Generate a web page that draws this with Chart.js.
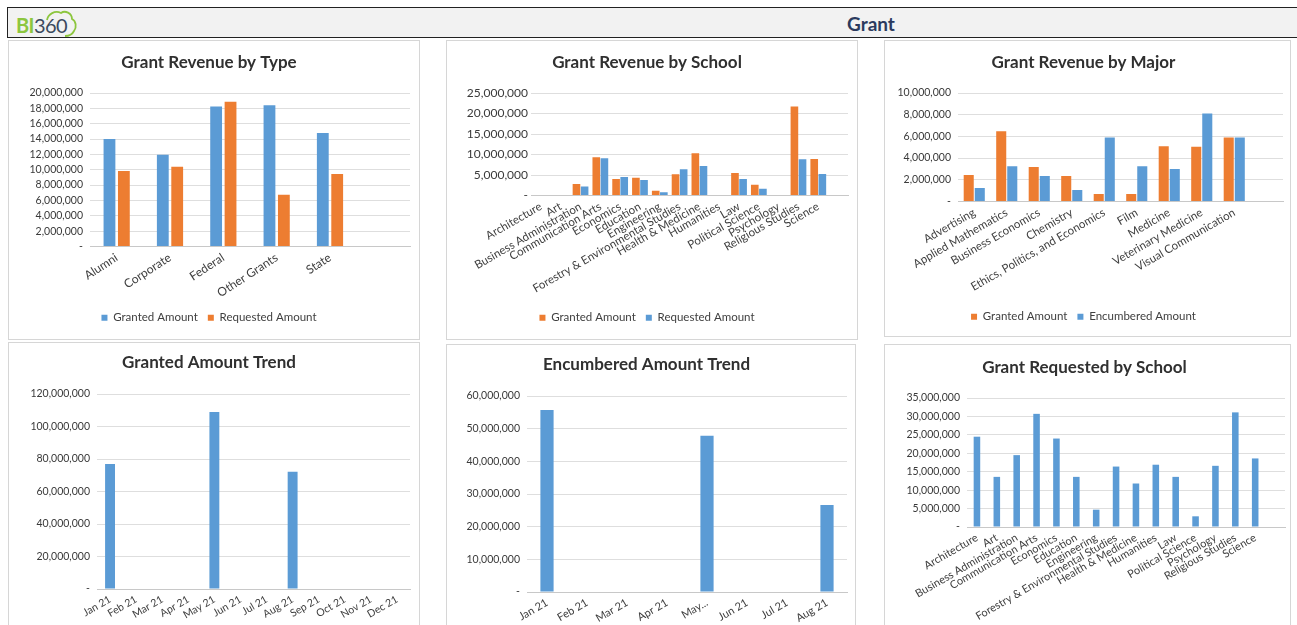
<!DOCTYPE html>
<html>
<head>
<meta charset="utf-8">
<title>Grant</title>
<script src="https://cdn.jsdelivr.net/npm/chart.js@4.4.1/dist/chart.umd.min.js"></script>
<style>
  body { margin: 0; width: 1297px; height: 625px; overflow: hidden; background: #fff; font-family: Lato, sans-serif; }
  .header { position: absolute; left: 7px; top: 7px; width: 1300px; height: 31px; border: 1px solid #222; background: #f2f2f2; box-sizing: border-box; }
  .logo { position: absolute; left: 8px; top: 6px; font-size: 20px; line-height: 22px; letter-spacing: -0.6px; }
  .logo .bi { color: #8cc63e; font-weight: bold; }
  .logo .num { color: #3b4a5e; }
  .logo svg { position: absolute; left: 22px; top: -6px; }
  .page-title { position: absolute; left: 0; width: 1726px; top: 4px; text-align: center; font-size: 19px; font-weight: bold; color: #2b3a5e; }
  .panel { position: absolute; border: 1px solid #d6d6d6; box-sizing: border-box; background: #fff; }
  canvas { position: absolute; }
</style>
</head>
<body>
<div class="header">
  <div class="logo"><span class="bi">BI</span><span class="num">360</span>
    <svg width="40" height="30" viewBox="0 0 40 30"><path d="M9 12 C10 6 17 2 23 5 C27 2 34 5 34 11 C38 13 39 19 36 23 C34 27 30 28 27 28" fill="none" stroke="#8cc63e" stroke-width="1.8"/></svg>
  </div>
  <div class="page-title">Grant</div>
</div>

<div class="panel" style="left:8px;top:40px;width:412px;height:300px"></div>
<div class="panel" style="left:446px;top:40px;width:412px;height:300px"></div>
<div class="panel" style="left:884px;top:40px;width:407px;height:297px"></div>
<div class="panel" style="left:8px;top:342px;width:412px;height:300px"></div>
<div class="panel" style="left:446px;top:344px;width:410px;height:300px"></div>
<div class="panel" style="left:884px;top:344px;width:407px;height:300px"></div>

<canvas id="byType" width="412" height="300" style="left:8px;top:40px"></canvas>
<canvas id="bySchool" width="412" height="300" style="left:446px;top:40px"></canvas>
<canvas id="byMajor" width="407" height="297" style="left:884px;top:40px"></canvas>
<canvas id="grantedTrend" width="412" height="283" style="left:8px;top:342px"></canvas>
<canvas id="encumberedTrend" width="410" height="281" style="left:446px;top:344px"></canvas>
<canvas id="requestedSchool" width="407" height="281" style="left:884px;top:344px"></canvas>

<script>
// values
const grantTypes = ['Alumni', 'Corporate', 'Federal', 'Other Grants', 'State'];
const typeGranted = [14000000, 11950000, 18250000, 18400000, 14800000];
const typeRequested = [9850000, 10400000, 18850000, 6750000, 9450000];

const schools = ['Architecture', 'Art', 'Business Administration', 'Communication Arts', 'Economics',
  'Education', 'Engineering', 'Forestry & Environmental Studies', 'Health & Medicine', 'Humanities',
  'Law', 'Political Science', 'Psychology', 'Religious Studies', 'Science'];
const schoolGranted = [0, 0, 2830000, 9300000, 4050000, 4300000, 1130000, 5200000, 10300000, 0, 5500000, 2600000, 0, 21700000, 8900000];
const schoolRequested = [0, 0, 2180000, 9060000, 4530000, 3800000, 810000, 6400000, 7200000, 0, 4050000, 1620000, 0, 8820000, 5260000];

const majors = ['Advertising', 'Applied Mathematics', 'Business Economics', 'Chemistry',
  'Ethics, Politics, and Economics', 'Film', 'Medicine', 'Veterinary Medicine', 'Visual Communication'];
const majorGranted = [2450000, 6480000, 3180000, 2350000, 700000, 700000, 5100000, 5050000, 5900000];
const majorEncumbered = [1250000, 3240000, 2350000, 1070000, 5900000, 3240000, 3000000, 8100000, 5900000];

const months = ['Jan 21', 'Feb 21', 'Mar 21', 'Apr 21', 'May 21', 'Jun 21', 'Jul 21', 'Aug 21', 'Sep 21', 'Oct 21', 'Nov 21', 'Dec 21'];
const grantedByMonth = [77000000, 0, 0, 0, 108900000, 0, 0, 72100000, 0, 0, 0, 0];

const encMonths = ['Jan 21', 'Feb 21', 'Mar 21', 'Apr 21', 'May...', 'Jun 21', 'Jul 21', 'Aug 21'];
const encumberedByMonth = [55700000, 0, 0, 0, 47800000, 0, 0, 26600000];

const requestedBySchool = [24500000, 13600000, 19500000, 30700000, 24000000, 13600000, 4700000, 16400000,
  11800000, 16900000, 13600000, 2900000, 16600000, 31100000, 18600000];

const BLUE = '#5b9bd5';
const ORANGE = '#ed7d31';

Chart.defaults.font.family = 'Lato, sans-serif';

function money(v) {
  return v === 0 ? '-' : v.toLocaleString('en-US');
}

function series(label, data, color) {
  return { label: label, data: data, backgroundColor: color, borderWidth: 0 };
}

// frame: plot box inside the canvas, title centre and legend centre
function makeChart(id, frame, setup) {
  const hasLegend = frame.legend != null;
  const legendTop = hasLegend ? frame.legend - 15.5 : frame.h;

  return new Chart(document.getElementById(id), {
    type: 'bar',
    data: { labels: setup.labels, datasets: setup.datasets },
    options: {
      responsive: false,
      animation: false,
      layout: {
        padding: { top: 0, left: 0, right: frame.w - frame.right, bottom: hasLegend ? frame.h - legendTop - 31 : 0 }
      },
      datasets: { bar: { categoryPercentage: setup.cat, barPercentage: setup.bar } },
      scales: {
        x: {
          grid: { display: false, drawTicks: false },
          border: { color: '#c8c8c8' },
          ticks: {
            autoSkip: false, minRotation: setup.rot || 30, maxRotation: setup.rot || 30, padding: 4,
            color: '#404040', font: { size: setup.xFont }
          },
          afterFit: s => { s.height = legendTop - frame.bottom; }
        },
        y: {
          min: 0,
          max: setup.max,
          grid: { color: '#dedede', drawTicks: false },
          border: { display: false },
          ticks: {
            stepSize: setup.step, padding: setup.yPad || 7, autoSkip: false,
            color: '#3a3a3a', font: { size: setup.yFont },
            callback: money
          },
          afterFit: s => { s.width = frame.left; }
        }
      },
      plugins: {
        title: {
          display: true,
          text: setup.title,
          color: '#303030',
          font: { size: 17, weight: 'bold' },
          padding: { top: frame.title - 10.2, bottom: frame.top - frame.title - 10.2 }
        },
        legend: {
          display: hasLegend,
          position: 'bottom',
          labels: { boxWidth: 6, boxHeight: 6, padding: 10, color: '#404040', font: { size: 11.5 } }
        },
        tooltip: { enabled: false }
      }
    }
  });
}

makeChart('byType',
  { w: 412, h: 300, title: 23, top: 53, bottom: 207, left: 82, right: 402, legend: 278 },
  {
    title: 'Grant Revenue by Type',
    labels: grantTypes.concat(['']),
    datasets: [series('Granted Amount', typeGranted, BLUE), series('Requested Amount', typeRequested, ORANGE)],
    max: 20000000, step: 2000000, yFont: 10.5, xFont: 12, rot: 33, cat: 0.54, bar: 0.82
  });

makeChart('bySchool',
  { w: 412, h: 300, title: 23, top: 53, bottom: 156, left: 85, right: 402, legend: 278 },
  {
    title: 'Grant Revenue by School',
    labels: schools.concat(['']),
    datasets: [series('Granted Amount', schoolGranted, ORANGE), series('Requested Amount', schoolRequested, BLUE)],
    max: 25000000, step: 5000000, yFont: 12, yPad: 3, xFont: 11.5, cat: 0.82, bar: 0.94
  });

makeChart('byMajor',
  { w: 407, h: 297, title: 23, top: 53, bottom: 162, left: 74, right: 399, legend: 277 },
  {
    title: 'Grant Revenue by Major',
    labels: majors.concat(['']),
    datasets: [series('Granted Amount', majorGranted, ORANGE), series('Encumbered Amount', majorEncumbered, BLUE)],
    max: 10000000, step: 2000000, yFont: 10.5, xFont: 11.5, cat: 0.68, bar: 0.91
  });

makeChart('grantedTrend',
  { w: 412, h: 283, title: 21, top: 52, bottom: 247, left: 89, right: 402, legend: null },
  {
    title: 'Granted Amount Trend',
    labels: months,
    datasets: [series('Granted Amount', grantedByMonth, BLUE)],
    max: 120000000, step: 20000000, yFont: 10.5, xFont: 10.5, cat: 0.38, bar: 1
  });

makeChart('encumberedTrend',
  { w: 410, h: 281, title: 21, top: 52, bottom: 248, left: 81, right: 401, legend: null },
  {
    title: 'Encumbered Amount Trend',
    labels: encMonths,
    datasets: [series('Encumbered Amount', encumberedByMonth, BLUE)],
    max: 60000000, step: 10000000, yFont: 10.5, xFont: 11, cat: 0.33, bar: 1
  });

makeChart('requestedSchool',
  { w: 407, h: 281, title: 24, top: 54, bottom: 183, left: 83, right: 401, legend: null },
  {
    title: 'Grant Requested by School',
    labels: schools.concat(['']),
    datasets: [series('Requested Amount', requestedBySchool, BLUE)],
    max: 35000000, step: 5000000, yFont: 10.5, xFont: 11, cat: 0.33, bar: 1
  });
</script>
</body>
</html>
